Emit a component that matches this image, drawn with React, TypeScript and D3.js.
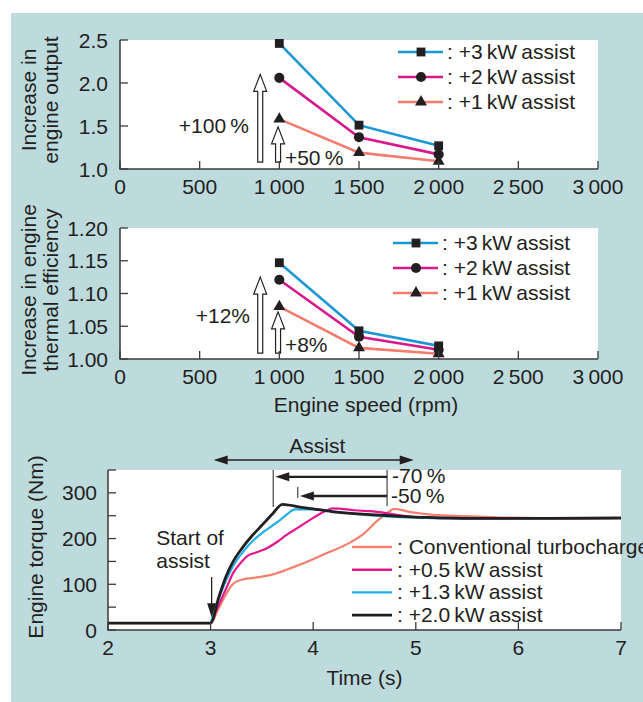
import React from "react";
import * as d3 from "d3";

// engine speed sweep (rpm)
const speeds = [1000, 1500, 2000];
const speedTicks = [0, 500, 1000, 1500, 2000, 2500, 3000];
const assistLabels = [": +3\u2009kW\u2009assist", ": +2\u2009kW\u2009assist", ": +1\u2009kW\u2009assist"];

// increase in engine output (ratio)
const output3kW = [2.46, 1.51, 1.27];
const output2kW = [2.06, 1.37, 1.17];
const output1kW = [1.58, 1.19, 1.09];
const outputTicks = [1.0, 1.5, 2.0, 2.5];

// increase in thermal efficiency (ratio)
const eff3kW = [1.147, 1.043, 1.02];
const eff2kW = [1.121, 1.034, 1.014];
const eff1kW = [1.08, 1.017, 1.008];
const effTicks = [1.0, 1.05, 1.1, 1.15, 1.2];

// torque response, [time s, torque Nm]
const conventionalTorque = [
  [2, 15], [3, 15], [3.08, 48], [3.15, 78], [3.22, 101], [3.3, 110], [3.45, 115], [3.6, 121],
  [3.8, 137], [4.0, 155], [4.15, 170], [4.35, 190], [4.5, 212], [4.62, 238], [4.72, 256],
  [4.79, 265], [4.95, 258], [5.17, 252], [5.5, 249], [5.82, 246], [6.2, 245], [6.6, 244], [7, 245],
];
const assist05Torque = [
  [3, 15], [3.08, 55], [3.16, 95], [3.22, 125], [3.29, 146], [3.36, 162], [3.45, 170],
  [3.55, 179], [3.65, 193], [3.74, 208], [3.86, 225], [3.97, 241], [4.1, 258], [4.19, 266],
  [4.4, 262], [4.65, 258], [4.85, 251], [5.0, 247], [5.5, 244], [7, 245],
];
const assist13Torque = [
  [3, 15], [3.08, 68], [3.15, 108], [3.22, 140], [3.32, 172], [3.42, 197], [3.5, 212],
  [3.6, 228], [3.68, 241], [3.75, 254], [3.82, 264], [4.0, 264], [4.2, 259], [4.5, 252],
  [5.0, 246], [5.5, 244], [7, 245],
];
const assist20Torque = [
  [2, 15], [3, 15], [3.08, 72], [3.15, 117], [3.22, 150], [3.3, 177], [3.4, 205], [3.5, 229],
  [3.6, 253], [3.7, 275], [3.87, 269], [4.0, 265], [4.18, 259], [4.45, 254], [4.68, 251],
  [5.0, 247], [5.17, 246], [5.6, 244], [6.3, 244], [7, 245],
];
const timeTicks = [2, 3, 4, 5, 6, 7];
const torqueTicks = [0, 50, 100, 150, 200, 250, 300, 350];
const torqueLabels = [": Conventional turbocharger", ": +0.5\u2009kW\u2009assist", ": +1.3\u2009kW\u2009assist", ": +2.0\u2009kW\u2009assist"];

const INK = "#231f20";
const AXIS = "#3d3b3c";
const BG = "#bddadd";
const FONT = "'Liberation Sans', Arial, Helvetica, sans-serif";
const FS = 21;
const speedColors = ["#1c97d6", "#d8198c", "#f47c6e"];
const torqueColors = ["#f5806f", "#e3168c", "#1fb0e9", INK];

const x1 = d3.scaleLinear().domain([0, 3000]).range([120, 598]);

function marker(i: number) {
  const types = [d3.symbolSquare, d3.symbolCircle, d3.symbolTriangle];
  const sizes = [78, 80, 62];
  return d3.symbol().type(types[i]).size(sizes[i])() as string;
}

function hollowArrow(cx: number, tip: number, base: number) {
  const hw = 6.5, sw = 2.5, hh = 17;
  return `M${cx - sw},${base}L${cx - sw},${tip + hh}L${cx - hw},${tip + hh}L${cx},${tip}L${cx + hw},${tip + hh}L${cx + sw},${tip + hh}L${cx + sw},${base}Z`;
}

function SpeedPanel({ top, bottom, domain, ticks, fmt, series, titles, legendX, legendY, arrows, notes, yTitle, titleMid }: any) {
  const y = d3.scaleLinear().domain(domain).range([bottom, top]);
  const line = d3.line<number>().x((_, i) => x1(speeds[i])).y((d) => y(d));
  return (
    <g>
      <rect x={x1(0)} y={top} width={x1(3000) - x1(0)} height={bottom - top} fill="#fff" />
      {series.map((s: number[], k: number) => (
        <path key={k} d={line(s) as string} fill="none" stroke={speedColors[k]} strokeWidth={2.6} />
      ))}
      {series.map((s: number[], k: number) =>
        s.map((v, i) => (
          <path key={`${k}-${i}`} d={marker(k)} transform={`translate(${x1(speeds[i])},${y(v)})`} fill={INK} />
        ))
      )}
      {arrows.map((a: number[], i: number) => (
        <path key={i} d={hollowArrow(x1(a[0]), y(a[1]), y(a[2]))} fill="#fff" stroke={INK} strokeWidth={1.2} />
      ))}
      {notes.map((n: any, i: number) => (
        <text key={i} x={x1(n.x)} y={y(n.y)} fontSize={FS} fill={INK} textAnchor={n.anchor}>{n.text}</text>
      ))}
      {/* legend */}
      {titles.map((t: string, k: number) => (
        <g key={k} transform={`translate(${legendX},${legendY + k * 25})`}>
          <line x1={0} x2={45} y1={0} y2={0} stroke={speedColors[k]} strokeWidth={2.6} />
          <path d={marker(k)} transform="translate(23,0)" fill={INK} />
          <text x={49} y={7} fontSize={FS} fill={INK}>{t}</text>
        </g>
      ))}
      {/* axes */}
      <path d={`M${x1(0)},${top}L${x1(0)},${bottom}L${x1(3000)},${bottom}`} fill="none" stroke={AXIS} strokeWidth={1.5} />
      {ticks.map((t: number) => (
        <g key={t}>
          <line x1={x1(0)} x2={x1(0) + 8} y1={y(t)} y2={y(t)} stroke={AXIS} strokeWidth={1.3} />
          <text x={x1(0) - 12} y={y(t)} dy="0.36em" textAnchor="end" fontSize={FS} fill={INK}>{d3.format(fmt)(t)}</text>
        </g>
      ))}
      {speedTicks.map((t) => (
        <g key={t}>
          <line x1={x1(t)} x2={x1(t)} y1={bottom} y2={bottom - 8} stroke={AXIS} strokeWidth={1.3} />
          <text x={x1(t)} y={bottom + 25} textAnchor="middle" fontSize={FS} fill={INK}>
            {t >= 1000 ? `${Math.floor(t / 1000)}\u2009${String(t % 1000).padStart(3, "0")}` : t}
          </text>
        </g>
      ))}
      <text transform={`translate(36,${titleMid}) rotate(-90)`} textAnchor="middle" fontSize={FS} fill={INK}>{yTitle[0]}</text>
      <text transform={`translate(58,${titleMid}) rotate(-90)`} textAnchor="middle" fontSize={FS} fill={INK}>{yTitle[1]}</text>
    </g>
  );
}

function TorquePanel() {
  const x = d3.scaleLinear().domain([2, 7]).range([108, 621]);
  const y = d3.scaleLinear().domain([0, 350]).range([630, 470]);
  const line = d3.line<number[]>().x((d) => x(d[0])).y((d) => y(d[1])).curve(d3.curveMonotoneX);
  const series = [conventionalTorque, assist05Torque, assist13Torque, assist20Torque];
  const headL = (px: number, py: number) => `M${px},${py}L${px + 14},${py - 4.5}L${px + 14},${py + 4.5}Z`;
  const headR = (px: number, py: number) => `M${px},${py}L${px - 14},${py - 4.5}L${px - 14},${py + 4.5}Z`;
  const headD = (px: number, py: number) => `M${px},${py}L${px - 4.5},${py - 14}L${px + 4.5},${py - 14}Z`;
  const assistY = y(350) - 10;
  return (
    <g>
      <rect x={x(2)} y={y(350)} width={x(7) - x(2)} height={y(0) - y(350)} fill="#fff" />
      {series.map((s, k) => (
        <path key={k} d={line(s) as string} fill="none" stroke={torqueColors[k]} strokeWidth={k === 3 ? 2.8 : 2.2} />
      ))}
      {/* assist span */}
      <text x={x(4.04)} y={assistY - 7} textAnchor="middle" fontSize={FS} fill={INK}>Assist</text>
      <line x1={x(3.03) + 10} x2={x(4.98) - 10} y1={assistY} y2={assistY} stroke={INK} strokeWidth={1.3} />
      <path d={headL(x(3.03), assistY)} fill={INK} />
      <path d={headR(x(4.98), assistY)} fill={INK} />
      {/* response-time reduction */}
      <line x1={x(3.61)} x2={x(3.61)} y1={y(350)} y2={y(269)} stroke={INK} strokeWidth={1} />
      <line x1={x(3.85)} x2={x(3.85)} y1={y(313)} y2={y(289)} stroke={INK} strokeWidth={1} />
      <line x1={x(4.72)} x2={x(4.72)} y1={y(350)} y2={y(271)} stroke={INK} strokeWidth={1} />
      <line x1={x(3.63) + 10} x2={x(4.72)} y1={y(335)} y2={y(335)} stroke={INK} strokeWidth={2.4} />
      <path d={headL(x(3.63), y(335))} fill={INK} />
      <line x1={x(3.87) + 10} x2={x(4.72)} y1={y(293)} y2={y(293)} stroke={INK} strokeWidth={2.4} />
      <path d={headL(x(3.87), y(293))} fill={INK} />
      <text x={x(4.72) + 5} y={y(322)} fontSize={FS} fill={INK}>-70{"\u2009"}%</text>
      <text x={x(4.72) + 4} y={y(278)} fontSize={FS} fill={INK}>-50{"\u2009"}%</text>
      {/* start of assist */}
      <text x={x(2.47)} y={545} fontSize={FS} fill={INK}>Start of</text>
      <text x={x(2.47)} y={568} fontSize={FS} fill={INK}>assist</text>
      <line x1={x(3.01)} x2={x(3.01)} y1={y(116)} y2={y(28) - 10} stroke={INK} strokeWidth={1.3} />
      <path d={headD(x(3.01), y(28))} fill={INK} />
      {/* legend */}
      {torqueLabels.map((t, k) => (
        <g key={k} transform={`translate(352,${547 + k * 22.7})`}>
          <line x1={0} x2={40} y1={0} y2={0} stroke={torqueColors[k]} strokeWidth={k === 3 ? 2.8 : 2.4} />
          <text x={45} y={7} fontSize={FS} fill={INK}>{t}</text>
        </g>
      ))}
      {/* axes */}
      <path d={`M${x(2)},${y(350)}L${x(2)},${y(0)}L${x(7)},${y(0)}`} fill="none" stroke={AXIS} strokeWidth={1.5} />
      {torqueTicks.map((t) => (
        <g key={t}>
          <line x1={x(2)} x2={x(2) + 8} y1={y(t)} y2={y(t)} stroke={AXIS} strokeWidth={1.3} />
          {t % 100 === 0 && (
            <text x={x(2) - 11} y={y(t)} dy="0.36em" textAnchor="end" fontSize={FS} fill={INK}>{t}</text>
          )}
        </g>
      ))}
      {timeTicks.map((t) => (
        <g key={t}>
          <line x1={x(t)} x2={x(t)} y1={y(0)} y2={y(0) - 8} stroke={AXIS} strokeWidth={1.3} />
          <text x={x(t)} y={y(0) + 25} textAnchor="middle" fontSize={FS} fill={INK}>{t}</text>
        </g>
      ))}
      <text x={(x(2) + x(7)) / 2} y={685} textAnchor="middle" fontSize={FS} fill={INK}>Time (s)</text>
      <text transform={`translate(43,547) rotate(-90)`} textAnchor="middle" fontSize={FS} fill={INK}>Engine torque (Nm)</text>
    </g>
  );
}

export default function App() {
  return (
    <div style={{ position: "absolute", left: 0, top: 0 }}>
      <svg width={643} height={702} style={{ display: "block", fontFamily: FONT }}>
        <rect width={643} height={702} fill="#fff" />
        <rect x={11} y={13} width={632} height={689} fill={BG} />
        <SpeedPanel
          top={40}
          bottom={169}
          domain={[1, 2.5]}
          ticks={outputTicks}
          fmt=".1f"
          series={[output3kW, output2kW, output1kW]}
          titles={assistLabels}
          legendX={398}
          legendY={52}
          arrows={[[880, 2.1, 1.08], [992, 1.49, 1.08]]}
          notes={[
            { x: 810, y: 1.42, text: "+100\u2009%", anchor: "end" },
            { x: 1035, y: 1.05, text: "+50\u2009%", anchor: "start" },
          ]}
          yTitle={["Increase in", "engine output"]}
          titleMid={100}
        />
        <SpeedPanel
          top={228}
          bottom={359}
          domain={[1, 1.2]}
          ticks={effTicks}
          fmt=".2f"
          series={[eff3kW, eff2kW, eff1kW]}
          titles={assistLabels}
          legendX={393}
          legendY={243}
          arrows={[[880, 1.125, 1.009], [992, 1.072, 1.009]]}
          notes={[
            { x: 816, y: 1.055, text: "+12%", anchor: "end" },
            { x: 1035, y: 1.01, text: "+8%", anchor: "start" },
          ]}
          yTitle={["Increase in engine", "thermal efficiency"]}
          titleMid={290}
        />
        <text x={366} y={412} textAnchor="middle" fontSize={FS} fill={INK} fontFamily={FONT}>Engine speed (rpm)</text>
        <TorquePanel />
      </svg>
    </div>
  );
}
